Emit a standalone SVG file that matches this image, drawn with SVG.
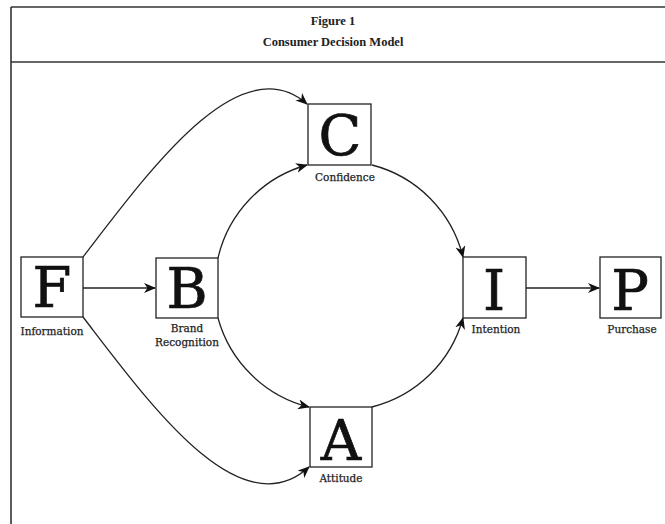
<svg xmlns="http://www.w3.org/2000/svg" width="665" height="524" viewBox="0 0 665 524">
<style>
.frame{fill:none;stroke:#333;stroke-width:1.6}
.box{fill:#fff;stroke:#222;stroke-width:1.3}
.big{font-family:"DejaVu Serif","Liberation Serif",serif;font-size:56px;fill:#111;stroke:#111;stroke-width:0.7;text-anchor:middle}
.lbl{font-family:"DejaVu Serif","Liberation Serif",serif;font-size:10.5px;fill:#222;stroke:#222;stroke-width:0.25;text-anchor:middle}
.ttl{font-family:"Liberation Serif","DejaVu Serif",serif;font-size:12.5px;font-weight:bold;fill:#222;text-anchor:middle}
.edge{fill:none;stroke:#222;stroke-width:1.3;marker-end:url(#arr)}
</style>
<defs>
<marker id="arr" viewBox="0 0 12 10" refX="11" refY="5" markerWidth="12" markerHeight="10" markerUnits="userSpaceOnUse" orient="auto">
<path d="M0,0 L12,5 L0,10 L3.5,5 z" fill="#111"/>
</marker>
</defs>
<g id="frame">
<line class="frame" x1="11" y1="7" x2="665" y2="7"/>
<line class="frame" x1="11" y1="62" x2="665" y2="62"/>
<line class="frame" x1="11" y1="7" x2="11" y2="524"/>
<text class="ttl" x="333" y="25">Figure 1</text>
<text class="ttl" x="333" y="46">Consumer Decision Model</text>
</g>
<g id="connectors">
<path class="edge" d="M83,288 L155,288"/>
<path class="edge" d="M526,288 L599,288"/>
<path class="edge" d="M83,257 C150,170 240,45 307,104"/>
<path class="edge" d="M83,317 C150,404 240,530 309,467"/>
<path class="edge" d="M218,258 A126,126 0 0 1 307,165"/>
<path class="edge" d="M218,318 A126,126 0 0 0 309,407"/>
<path class="edge" d="M372,165 A126,126 0 0 1 463,257"/>
<path class="edge" d="M372,407 A126,126 0 0 0 463,318"/>
</g>
<g id="node-F">
<rect class="box" x="21" y="257" width="62" height="60"/>
<text class="big" x="52" y="307">F</text>
<text class="lbl" x="52" y="335">Information</text>
</g>
<g id="node-B">
<rect class="box" x="156" y="258" width="62" height="60"/>
<text class="big" x="187" y="308">B</text>
<text class="lbl" x="187" y="332">Brand</text>
<text class="lbl" x="187" y="346">Recognition</text>
</g>
<g id="node-C">
<rect class="box" x="308" y="104" width="63" height="61"/>
<text class="big" x="340" y="155">C</text>
<text class="lbl" x="345" y="181">Confidence</text>
</g>
<g id="node-A">
<rect class="box" x="310" y="407" width="62" height="60"/>
<text class="big" x="341" y="460">A</text>
<text class="lbl" x="341" y="482">Attitude</text>
</g>
<g id="node-I">
<rect class="box" x="463" y="257" width="63" height="61"/>
<text class="big" x="494" y="310">I</text>
<text class="lbl" x="496" y="333">Intention</text>
</g>
<g id="node-P">
<rect class="box" x="600" y="257" width="61" height="61"/>
<text class="big" x="630" y="310">P</text>
<text class="lbl" x="632" y="333">Purchase</text>
</g>
</svg>
